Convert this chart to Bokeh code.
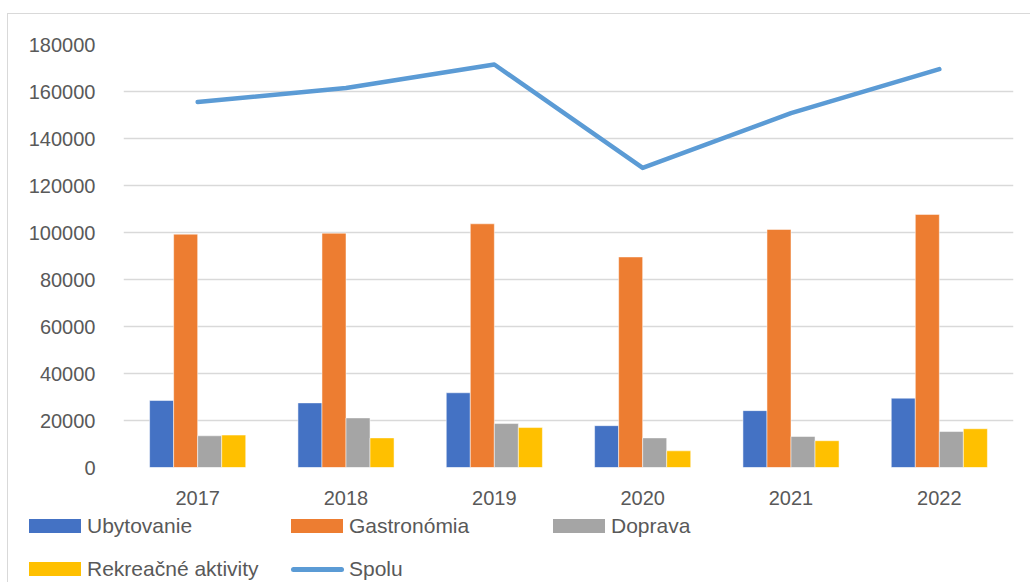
from bokeh.plotting import figure
from bokeh.layouts import column
from bokeh.models import ColumnDataSource, Range1d, FactorRange, SingleIntervalTicker, BasicTickFormatter, Div
from bokeh.transform import dodge
from bokeh.embed import file_html
from bokeh.resources import INLINE

years = ["2017", "2018", "2019", "2020", "2021", "2022"]
ubytovanie = [28500, 27500, 31800, 17800, 24200, 29500]
gastronomia = [99300, 99700, 103700, 89600, 101300, 107700]
doprava = [13500, 21100, 18700, 12600, 13200, 15300]
rekreacne = [13800, 12600, 17000, 7100, 11400, 16500]
spolu = [155500, 161500, 171500, 127500, 150800, 169500]
series_names = ["Ubytovanie", "Gastronómia", "Doprava", "Rekreačné aktivity", "Spolu"]

COLORS = ["#4472C4", "#ED7D31", "#A5A5A5", "#FFC000", "#5B9BD5"]
FONT = "Liberation Sans"
TXT = "#595959"

src = ColumnDataSource(dict(year=years, ub=ubytovanie, ga=gastronomia, do=doprava, re=rekreacne, sp=spolu))

p = figure(width=1030, height=510, x_range=FactorRange(*years, range_padding=0),
           y_range=Range1d(0, 180000), output_backend="svg", toolbar_location=None,
           min_border_left=123, min_border_right=17, min_border_top=44, min_border_bottom=43)
p.outline_line_color = None
p.background_fill_color = "white"

bw = 0.162
cols = ["ub", "ga", "do", "re"]
for i, c in enumerate(cols):
    p.vbar(x=dodge("year", (i - 1.5) * bw, range=p.x_range), top=c, width=bw, source=src,
           color=COLORS[i], line_color="white", line_width=0.5)
p.line(x="year", y="sp", source=src, line_color=COLORS[4], line_width=4.5, line_cap="round", line_join="round")

p.yaxis.ticker = SingleIntervalTicker(interval=20000)
p.yaxis.formatter = BasicTickFormatter(use_scientific=False)
for ax in (p.xaxis[0], p.yaxis[0]):
    ax.axis_line_color = None
    ax.major_tick_line_color = None
    ax.minor_tick_line_color = None
    ax.major_label_text_font = FONT
    ax.major_label_text_font_size = "20px"
    ax.major_label_text_color = TXT
p.yaxis.major_label_standoff = 22
p.xaxis.major_label_standoff = 17

p.xgrid.grid_line_color = None
p.ygrid.grid_line_color = "#D9D9D9"
p.ygrid.grid_line_width = 1.5
p.ygrid.ticker = SingleIntervalTicker(interval=20000)

# legend (HTML) below the plot: 3-column grid, 2 rows
col_x = [29, 291, 553]
row_y = [16, 59]
parts = []
# chart-area border (light grey, left and top edges)
parts.append('<div style="position:absolute;left:7px;top:-497px;width:1030px;height:580px;'
             'border-left:1.5px solid #D9D9D9;border-top:1.5px solid #D9D9D9;pointer-events:none;"></div>')
for i, name in enumerate(series_names):
    cx = col_x[i % 3]
    cy = row_y[i // 3]
    if i < 4:
        parts.append(f'<div style="position:absolute;left:{cx}px;top:{cy - 7}px;width:52px;height:14px;background:{COLORS[i]};"></div>')
    else:
        parts.append(f'<div style="position:absolute;left:{cx}px;top:{cy - 2.5}px;width:53px;height:5px;border-radius:3px;background:{COLORS[i]};"></div>')
    parts.append(f'<div style="position:absolute;left:{cx + 58}px;top:{cy - 12}px;line-height:24px;white-space:nowrap;">{name}</div>')
html = (f'<div style="position:relative;width:1030px;height:72px;font-family:\'{FONT}\';'
        f'font-size:21px;color:{TXT};">' + "".join(parts) + '</div>')
leg = Div(text=html, width=1030, height=72, margin=0)

layout = column(p, leg, spacing=0)
open("out.html", "w").write(file_html(layout, INLINE))
